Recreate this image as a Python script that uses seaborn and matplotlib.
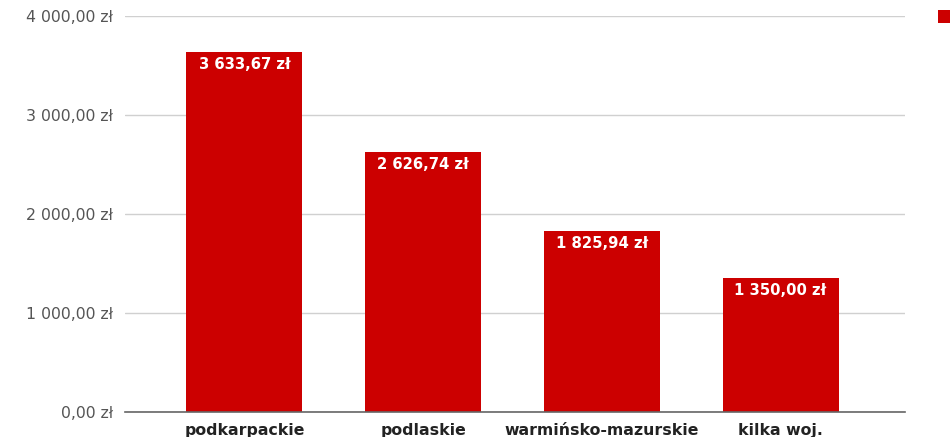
import matplotlib
matplotlib.use("Agg")
import matplotlib.pyplot as plt
import seaborn as sns
import pandas as pd
from matplotlib.patches import Patch
from matplotlib.ticker import FuncFormatter

categories = ["podkarpackie", "podlaskie", "warmińsko-mazurskie", "kilka woj."]
values = [3633.67, 2626.74, 1825.94, 1350.00]
yticks = [0, 1000, 2000, 3000, 4000]

def pl(v):
    s = f"{v:,.2f}".replace(",", " ").replace(".", ",")
    return s + " zł"

sns.set_theme(style="white")
plt.rcParams['font.family'] = ['DejaVu Sans']

df = pd.DataFrame({"cat": categories, "val": values})
fig = plt.figure(figsize=(9.5, 4.37), dpi=100)
ax = fig.add_axes([125/950, 25/437, 780/950, 396/437])
red = "#cc0000"
sns.barplot(data=df, x="cat", y="val", color=red, saturation=1, width=0.648, ax=ax, zorder=3)
for p in ax.patches:
    p.set_edgecolor("none")

ax.set_ylim(0, 4000)
ax.set_xlim(-0.668, 3.696)
ax.set_yticks(yticks)
ax.yaxis.set_major_formatter(FuncFormatter(lambda v, _: pl(v)))
ax.grid(axis="y", color="#d0d0d0", linewidth=1, zorder=0)
ax.grid(axis="x", visible=False)
for s in ["top", "right", "left"]:
    ax.spines[s].set_visible(False)
ax.spines["bottom"].set_color("#666666")
ax.spines["bottom"].set_linewidth(1.2)
ax.spines["bottom"].set_zorder(4)
ax.tick_params(axis="y", length=0, pad=8.5, labelsize=11.3, labelcolor="#555555")
ax.tick_params(axis="x", length=0, pad=8, labelsize=11.3, labelcolor="#222222")
for lbl in ax.get_xticklabels():
    lbl.set_fontweight("bold")
ax.set_xlabel("")
ax.set_ylabel("")

for i, v in enumerate(values):
    ax.annotate(pl(v), (i, v), xytext=(0, -3.5), textcoords="offset points",
                ha="center", va="top", color="white", fontweight="bold", fontsize=10.7, zorder=5)

fig.legend(handles=[Patch(facecolor=red, edgecolor="none")], labels=[" "],
           loc="upper left", bbox_to_anchor=(938/950, 1 - 10/437), frameon=False, fontsize=10,
           handlelength=1.1, handleheight=1.1, borderpad=0, borderaxespad=0, handletextpad=0.2)

fig.savefig("out.png", dpi=100)
